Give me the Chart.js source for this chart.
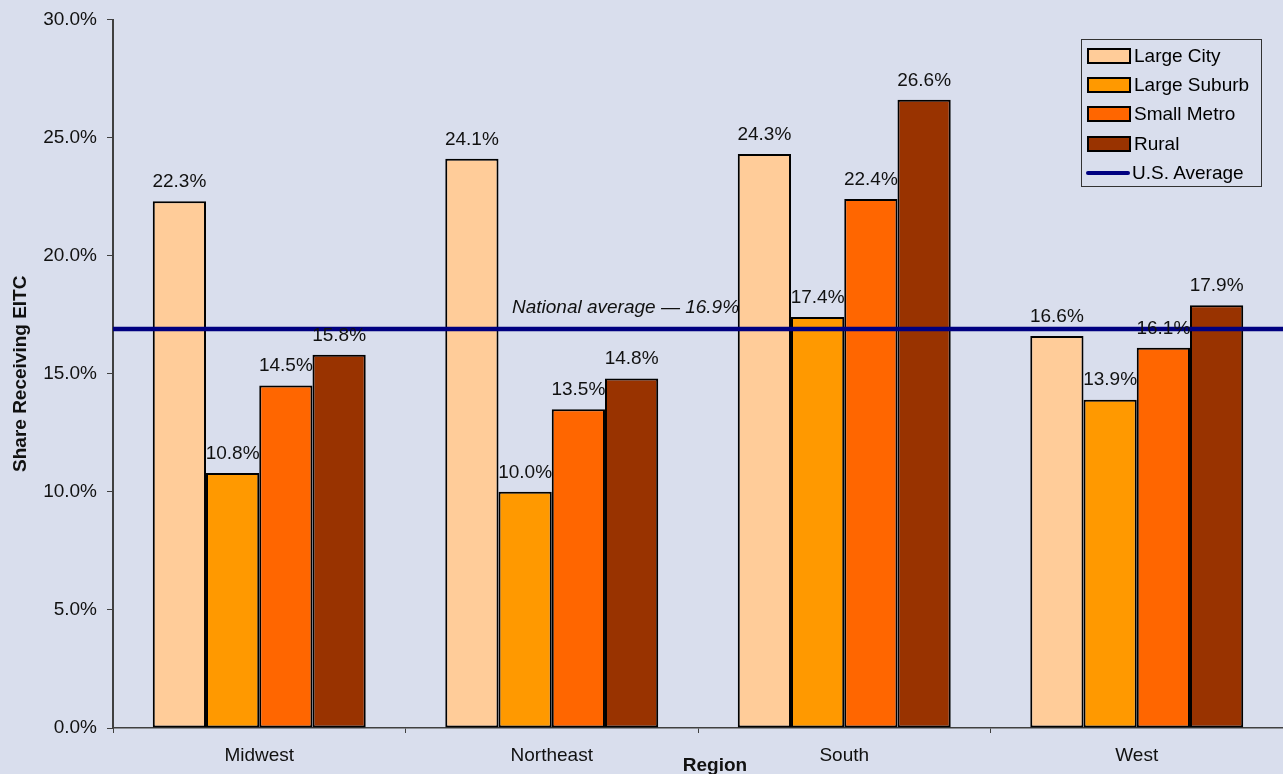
<!DOCTYPE html>
<html lang="en">
<head>
    <meta charset="UTF-8">
    <title>Share Receiving EITC by Region</title>
    <script src="https://cdn.jsdelivr.net/npm/chart.js"></script>
    <style>
        body {
            margin: 0;
            background: #d9deed;
            font-family: Arial, "Liberation Sans", sans-serif;
        }
        .chart-wrap {
            position: relative;
            width: 1283px;
            height: 774px;
        }
        .legend-box {
            position: absolute;
            left: 1081px;
            top: 39px;
            width: 181px;
            height: 148px;
            border: 1px solid #333;
            box-sizing: border-box;
            padding-top: 1px;
        }
        .legend-item {
            display: flex;
            align-items: center;
            height: 29.4px;
            font-size: 19px;
            color: #000;
        }
        .legend-swatch {
            width: 40px;
            height: 12px;
            margin-left: 5px;
            margin-right: 3px;
            border: 2px solid #000;
        }
        .legend-line {
            width: 44px;
            height: 4px;
            margin-left: 4px;
            margin-right: 2px;
            background: #000080;
            border-radius: 2px;
        }
    </style>
</head>
<body>
    <div class="chart-wrap">
        <canvas id="eitcChart"></canvas>
        <div class="legend-box" id="legend"></div>
    </div>

    <script>
        const regions = ['Midwest', 'Northeast', 'South', 'West'];
        const seriesNames = ['Large City', 'Large Suburb', 'Small Metro', 'Rural'];
        const largeCity = [22.3, 24.1, 24.3, 16.6];
        const largeSuburb = [10.8, 10.0, 17.4, 13.9];
        const smallMetro = [14.5, 13.5, 22.4, 16.1];
        const rural = [15.8, 14.8, 26.6, 17.9];
        const usAverage = 16.9;
        const yTicks = [0, 5, 10, 15, 20, 25, 30];

        const colors = ['#ffcc99', '#ff9900', '#ff6600', '#993300'];
        const seriesValues = [largeCity, largeSuburb, smallMetro, rural];
        const fontFamily = 'Arial, "Liberation Sans", sans-serif';

        // average line, bar labels, axis titles and the average note
        const extrasPlugin = {
            id: 'extras',
            afterDatasetsDraw(chart) {
                const ctx = chart.ctx;
                const area = chart.chartArea;
                const yAvg = chart.scales.y.getPixelForValue(usAverage);
                ctx.save();

                ctx.strokeStyle = '#000080';
                ctx.lineWidth = 4.5;
                ctx.beginPath();
                ctx.moveTo(area.left, yAvg);
                ctx.lineTo(area.right, yAvg);
                ctx.stroke();

                ctx.fillStyle = '#111';
                ctx.font = '19px ' + fontFamily;
                ctx.textAlign = 'center';
                ctx.textBaseline = 'bottom';
                chart.data.datasets.forEach((ds, i) => {
                    chart.getDatasetMeta(i).data.forEach((bar, j) => {
                        ctx.fillText(ds.data[j].toFixed(1) + '%', bar.x, bar.y - 10);
                    });
                });

                ctx.font = 'italic 19px ' + fontFamily;
                ctx.textAlign = 'left';
                ctx.textBaseline = 'alphabetic';
                ctx.fillText('National average \u2014 ' + usAverage.toFixed(1) + '%', 512, yAvg - 16);

                ctx.font = 'bold 19px ' + fontFamily;
                ctx.textAlign = 'center';
                ctx.textBaseline = 'middle';
                ctx.fillText('Region', 715, 766);

                ctx.translate(21, (area.top + area.bottom) / 2);
                ctx.rotate(-Math.PI / 2);
                ctx.fillText('Share Receiving EITC', 0, 0);
                ctx.restore();
            }
        };

        const datasets = seriesNames.map((name, i) => ({
            label: name,
            data: seriesValues[i],
            backgroundColor: colors[i],
            borderColor: '#000',
            borderWidth: 2,
            borderSkipped: false,
            barPercentage: 1.0,
            categoryPercentage: 0.728
        }));

        new Chart(document.getElementById('eitcChart').getContext('2d'), {
            type: 'bar',
            data: { labels: regions, datasets: datasets },
            options: {
                responsive: true,
                maintainAspectRatio: false,
                animation: false,
                layout: { padding: { top: 17, right: 0, left: 0, bottom: 0 } },
                plugins: {
                    legend: { display: false },
                    tooltip: { enabled: false }
                },
                scales: {
                    x: {
                        afterFit: (s) => { s.height = 46; },
                        grid: {
                            offset: true,
                            drawOnChartArea: false,
                            tickLength: 5,
                            color: '#404040'
                        },
                        border: { color: '#404040', width: 1.5 },
                        ticks: {
                            color: '#111',
                            padding: 11,
                            font: { size: 19, family: fontFamily }
                        }
                    },
                    y: {
                        min: 0,
                        max: 30,
                        afterFit: (s) => { s.width = 113; },
                        afterBuildTicks: (s) => { s.ticks = yTicks.map(v => ({ value: v })); },
                        grid: {
                            drawOnChartArea: false,
                            tickLength: 6,
                            color: '#404040'
                        },
                        border: { color: '#404040', width: 2 },
                        ticks: {
                            color: '#111',
                            padding: 10,
                            font: { size: 19, family: fontFamily, lineHeight: 1 },
                            callback: (v) => v.toFixed(1) + '%'
                        }
                    }
                }
            },
            plugins: [extrasPlugin]
        });

        // legend built from the same arrays
        const legend = document.getElementById('legend');
        seriesNames.forEach((name, i) => {
            legend.innerHTML += '<div class="legend-item"><span class="legend-swatch" style="background:' +
                colors[i] + '"></span>' + name + '</div>';
        });
        legend.innerHTML += '<div class="legend-item"><span class="legend-line"></span>U.S. Average</div>';
    </script>
</body>
</html>
